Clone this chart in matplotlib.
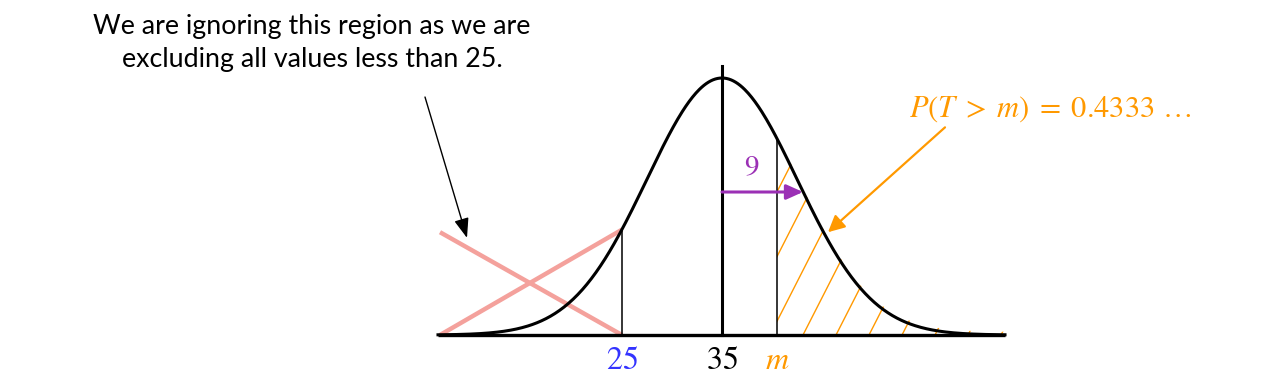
import numpy as np
import matplotlib.pyplot as plt
from matplotlib.patches import Polygon

plt.rcParams['mathtext.fontset'] = 'stix'

# values
mean = 35
spread = 7.5          # drawn spread of the curve
sd_label = '$9$'
lower = 25
m_pos = 40.5
x_start, x_end = 6.6, 63.3
tick_vals = [25, 35, 40.5]
tick_labels = ['$25$', '$35$', '$m$']
tick_colors = ['#3333FF', 'black', '#FF9900']
prob_text = r'$P(T\;>\;m)\;=\;0.4333\ \ldots$'
note_text = 'We are ignoring this region as we are\nexcluding all values less than 25.'
hatch_start, hatch_step, n_hatch = 33.2, 3.3, 12

orange = '#FF9900'
purple = '#9B30B5'
pink = '#F4A19C'


def curve(x):
    return np.exp(-(np.asarray(x) - mean) ** 2 / (2 * spread ** 2))


fig = plt.figure(figsize=(12.8, 3.75), dpi=100)
ax = fig.add_axes([0, 0, 1, 1])
ax.set_xlim(-37.2, 90.8)
ax.set_ylim(-0.1556, 1.3035)
ax.axis('off')

xs = np.linspace(x_start, x_end, 500)
ax.plot(xs, curve(xs), color='black', lw=2.2, zorder=4)
ax.plot([x_start, x_end], [0, 0], color='black', lw=2.4, zorder=5, solid_capstyle='butt')

# vertical lines
ax.plot([mean, mean], [0, 1.047], color='black', lw=2.2, zorder=5)
ax.plot([lower, lower], [0, curve(lower)], color='black', lw=1.1, zorder=4)
ax.plot([m_pos, m_pos], [0, curve(m_pos)], color='black', lw=1.1, zorder=4)

# hatched tail
tail_x = np.linspace(m_pos, x_end, 300)
poly = Polygon(np.column_stack([np.r_[m_pos, tail_x, x_end], np.r_[0, curve(tail_x) + 0.012, 0]]),
               closed=True, facecolor='none', edgecolor='none')
ax.add_patch(poly)
slope = 0.0763
for k in range(n_hatch):
    x0 = hatch_start + k * hatch_step
    ln, = ax.plot([x0, x0 + 14], [0, 14 * slope], color=orange, lw=1.0, zorder=3)
    ln.set_clip_path(poly)

# crossed-out region
ax.plot([6.8, lower], [0.40, 0], color=pink, lw=3.2, zorder=3, solid_capstyle='butt')
ax.plot([6.8, lower], [0, 0.41], color=pink, lw=3.2, zorder=3, solid_capstyle='butt')

# purple sd arrow
arrow_y = (335 - 192) / 257
ax.annotate('', xy=(43.1, arrow_y), xytext=(mean, arrow_y),
            arrowprops=dict(arrowstyle='-|>,head_length=1.0,head_width=0.45',
                            color=purple, lw=2.2, shrinkA=0, shrinkB=0), zorder=6)
ax.text(38.0, arrow_y + 0.04, sd_label, color=purple, fontsize=21,
        ha='center', va='bottom')

# orange probability arrow and label
ax.annotate('', xy=(45.6, 0.40), xytext=(57.3, 0.808),
            arrowprops=dict(arrowstyle='-|>,head_length=1.0,head_width=0.5',
                            color=orange, lw=1.6, shrinkA=0, shrinkB=0))
ax.text(67.8, 0.88, prob_text, color=orange, fontsize=22, ha='center', va='center')

# black note arrow and text
ax.annotate('', xy=(9.5, 0.378), xytext=(5.3, 0.926),
            arrowprops=dict(arrowstyle='-|>,head_length=1.2,head_width=0.45',
                            color='black', lw=1.0, shrinkA=0, shrinkB=0))
fig.text(312 / 1280, 1 - 43 / 375, note_text, ha='center', va='center',
         fontsize=19.3, family='Lato', linespacing=1.4)

# tick labels
for v, lab, c in zip(tick_vals, tick_labels, tick_colors):
    ax.text(v, -0.1, lab, color=c, fontsize=23, ha='center', va='center')

fig.savefig('out.png', dpi=100)
